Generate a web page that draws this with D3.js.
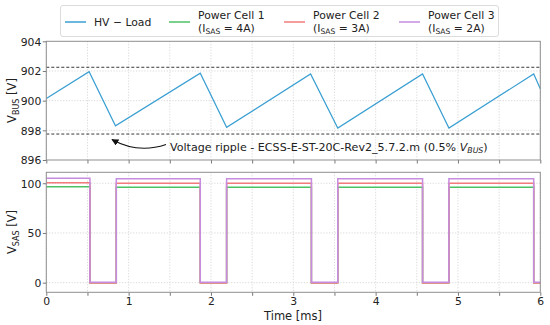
<!DOCTYPE html>
<html><head><meta charset="utf-8">
<script src="https://cdn.jsdelivr.net/npm/d3@7"></script>
<style>
body{margin:0;background:#fff;}
svg{display:block;font-family:"DejaVu Sans",sans-serif;}
</style></head>
<body><svg id="chart" width="550" height="325"></svg>
<script>
// ---- data ----
const hvTime  = [0, 0.52, 0.84, 1.87, 2.19, 3.21, 3.54, 4.57, 4.89, 5.92, 6];
const hvValue = [900.15, 901.95, 898.3, 901.85, 898.2, 901.8, 898.15, 901.8, 898.15, 901.8, 900.8];
const rippleLimits = [902.25, 897.75];

const sasTime  = [0, 0.53, 0.53, 0.85, 0.85, 1.87, 1.87, 2.19, 2.19, 3.22, 3.22, 3.54, 3.54, 4.57, 4.57, 4.89, 4.89, 5.92, 5.92, 6];
const cell1    = [96.5, 96.5, 0, 0, 96, 96, 0, 0, 96, 96, 0, 0, 96, 96, 0, 0, 96, 96, 0, 0];
const cell2    = [100.5, 100.5, -0.4, -0.4, 100, 100, -0.4, -0.4, 100, 100, -0.4, -0.4, 100, 100, -0.4, -0.4, 100, 100, -0.4, -0.4];
const cell3    = [105, 105, 0.3, 0.3, 104.5, 104.5, 0.3, 0.3, 104.5, 104.5, 0.3, 0.3, 104.5, 104.5, 0.3, 0.3, 104.5, 104.5, 0.3, 0.3];

const seriesNames = ["HV \u2212 Load", "Power Cell 1", "Power Cell 2", "Power Cell 3"];
const seriesSub   = [null, "4A", "3A", "2A"];
const colors      = ["#3a9fd2", "#4cc264", "#f27b7b", "#c68ce0"];

const xTicks = [0, 0.5, 1, 1.5, 2, 2.5, 3, 3.5, 4, 4.5, 5, 5.5, 6];
const xLabels = [0, 1, 2, 3, 4, 5, 6];
const topYTicks = [896, 898, 900, 902, 904];
const botYTicks = [0, 50, 100];

// ---- layout ----
const svg = d3.select("#chart");
const L = 46.3, R = 540.3;
const topP = {y0: 41.3, y1: 160};
const botP = {y0: 172.3, y1: 292.3};

const x = d3.scaleLinear().domain([0, 6]).range([L, R]);
const yT = d3.scaleLinear().domain([896, 904]).range([topP.y1, topP.y0]);
const yB = d3.scaleLinear().domain([-9.7, 111]).range([botP.y1, botP.y0]);

const textCol = "#222";
const gridCol = "#cfcfcf";
const spineCol = "#8f8f8f";
const FS = "10.8px";

function panel(y, y0, y1, yticks, showXLabels) {
  const g = svg.append("g");
  g.selectAll(".vg").data(xTicks).join("line")
    .attr("x1", d => x(d)).attr("x2", d => x(d)).attr("y1", y0).attr("y2", y1)
    .attr("stroke", gridCol).attr("stroke-width", 0.8).attr("stroke-dasharray", "1.2,1.6");
  g.selectAll(".hg").data(yticks.filter(d => y(d) > y0 + 1 && y(d) < y1 - 1)).join("line")
    .attr("x1", L).attr("x2", R).attr("y1", d => y(d)).attr("y2", d => y(d))
    .attr("stroke", gridCol).attr("stroke-width", 0.8).attr("stroke-dasharray", "1.2,1.6");
  const ax = d3.axisBottom(x).tickValues(xTicks).tickSizeOuter(0).tickSizeInner(3.5)
    .tickFormat(d => (showXLabels && xLabels.includes(d)) ? d : "");
  const axg = g.append("g").attr("transform", `translate(0,${y1})`).call(ax);
  const ay = d3.axisLeft(y).tickValues(yticks).tickSizeOuter(0).tickSizeInner(3.5).tickFormat(d3.format("d"));
  const ayg = g.append("g").attr("transform", `translate(${L},0)`).call(ay);
  [axg, ayg].forEach(a => {
    a.select(".domain").remove();
    a.selectAll(".tick line").attr("stroke", "#555").attr("stroke-width", 0.8);
    a.selectAll(".tick text").attr("fill", textCol).style("font-size", FS)
      .style("font-family", "DejaVu Sans, sans-serif");
  });
  ayg.selectAll(".tick text").attr("x", -5).attr("dy", "0.35em");
  axg.selectAll(".tick text").attr("y", 5).attr("dy", "0.71em");
  return g;
}

const gT = panel(yT, topP.y0, topP.y1, topYTicks, false);
const gB = panel(yB, botP.y0, botP.y1, botYTicks, true);

gT.selectAll(".lim").data(rippleLimits).join("line")
  .attr("x1", L).attr("x2", R).attr("y1", d => yT(d)).attr("y2", d => yT(d))
  .attr("stroke", "#222").attr("stroke-width", 0.9).attr("stroke-dasharray", "3,2");

const hvData = hvTime.map((t, i) => [t, hvValue[i]]);
gT.append("path").datum(hvData)
  .attr("d", d3.line().x(d => x(d[0])).y(d => yT(d[1])))
  .attr("fill", "none").attr("stroke", colors[0]).attr("stroke-width", 1.2);

[cell1, cell2, cell3].forEach((vals, k) => {
  const data = sasTime.map((t, i) => [t, vals[i]]);
  gB.append("path").datum(data)
    .attr("d", d3.line().x(d => x(d[0])).y(d => yB(d[1])))
    .attr("fill", "none").attr("stroke", colors[k + 1]).attr("stroke-width", 1.5)
    .attr("stroke-linejoin", "miter");
});

[[topP.y0, topP.y1], [botP.y0, botP.y1]].forEach(([a, b]) => {
  svg.append("rect").attr("x", L).attr("y", a).attr("width", R - L).attr("height", b - a)
    .attr("fill", "none").attr("stroke", spineCol).attr("stroke-width", 1);
});

const defs = svg.append("defs");
defs.append("marker").attr("id", "ah").attr("viewBox", "0 0 10 10").attr("refX", 9).attr("refY", 5)
  .attr("markerWidth", 7).attr("markerHeight", 7).attr("orient", "auto-start-reverse")
  .attr("markerUnits", "userSpaceOnUse")
  .append("path").attr("d", "M0,0 L10,5 L0,10 Z").attr("fill", "#111");
svg.append("path").attr("d", "M166,144.5 Q138,154 112,139.5")
  .attr("fill", "none").attr("stroke", "#111").attr("stroke-width", 1.1).attr("marker-end", "url(#ah)");
const ann = svg.append("text").attr("x", 170).attr("y", 150.5).attr("fill", textCol).style("font-size", "11.1px");
ann.append("tspan").text("Voltage ripple - ECSS-E-ST-20C-Rev2_5.7.2.m (0.5% ");
ann.append("tspan").attr("font-style", "italic").text("V");
ann.append("tspan").attr("font-style", "italic").attr("dy", 2.5).style("font-size", "7.8px").text("BUS");
ann.append("tspan").attr("dy", -2.5).text(")");

function yLabel(cx, cy, sub) {
  const t = svg.append("text").attr("transform", `translate(${cx},${cy}) rotate(-90)`)
    .attr("text-anchor", "middle").attr("fill", textCol).style("font-size", "11.5px");
  t.append("tspan").text("V");
  t.append("tspan").attr("dy", 3).style("font-size", "8px").text(sub);
  t.append("tspan").attr("dy", -3).text(" [V]");
}
yLabel(16, 100.5, "BUS");
yLabel(16, 232, "SAS");

svg.append("text").attr("x", 293).attr("y", 319.5).attr("text-anchor", "middle")
  .attr("fill", textCol).style("font-size", "11.5px").text("Time [ms]");

const lg = svg.append("g");
lg.append("rect").attr("x", 60.5).attr("y", 5.5).attr("width", 438).attr("height", 31).attr("rx", 2.5)
  .attr("fill", "#fff").attr("fill-opacity", 0.9).attr("stroke", "#dcdcdc").attr("stroke-width", 1);
const lx = [65, 169, 284, 399];
seriesNames.forEach((name, i) => {
  lg.append("line").attr("x1", lx[i]).attr("x2", lx[i] + 21).attr("y1", 22).attr("y2", 22)
    .attr("stroke", colors[i]).attr("stroke-width", 1.5);
  if (seriesSub[i] === null) {
    lg.append("text").attr("x", lx[i] + 29).attr("y", 26).attr("fill", textCol)
      .style("font-size", FS).text(name);
  } else {
    lg.append("text").attr("x", lx[i] + 29).attr("y", 18.5).attr("fill", textCol)
      .style("font-size", FS).text(name);
    const t2 = lg.append("text").attr("x", lx[i] + 29).attr("y", 31.5).attr("fill", textCol)
      .style("font-size", FS);
    t2.append("tspan").text("(I");
    t2.append("tspan").attr("dy", 2.5).style("font-size", "7.6px").text("SAS");
    t2.append("tspan").attr("dy", -2.5).text(" = " + seriesSub[i] + ")");
  }
});
</script>
</body></html>
